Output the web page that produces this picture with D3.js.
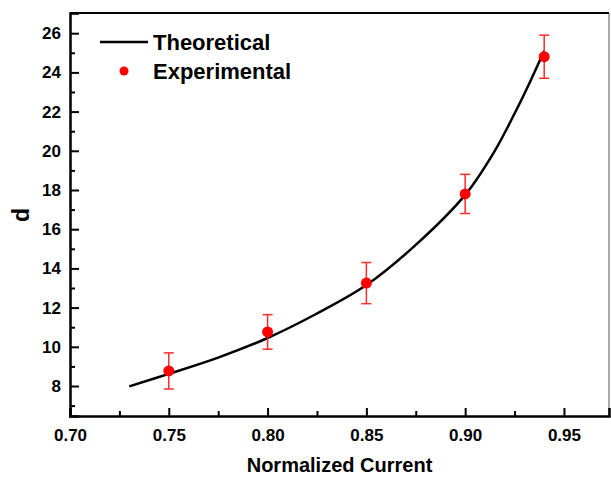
<!DOCTYPE html>
<head>
  <meta charset="UTF-8">
  <script src="https://d3js.org/d3.v7.min.js"></script>
  <title>d vs Normalized Current</title>
  <style>
    body { margin: 0; background: #fff; }
    text { font-family: "Liberation Sans", Arial, sans-serif; font-weight: bold; }
  </style>
</head>
<body>
  <svg id="chart"></svg>
  <script>
    // theoretical curve
    var theoX = [0.730, 0.750, 0.775, 0.800, 0.825, 0.850, 0.875, 0.900, 0.915, 0.925, 0.933, 0.940];
    var theoY = [7.98, 8.62, 9.45, 10.45, 11.7, 13.15, 15.2, 17.75, 20.0, 21.9, 23.55, 25.1];

    // experimental points with error bars
    var expX = [0.75, 0.80, 0.85, 0.90, 0.94];
    var expY = [8.77, 10.76, 13.25, 17.8, 24.8];
    var expErr = [0.92, 0.88, 1.05, 1.0, 1.1];

    var xTicks = [0.70, 0.75, 0.80, 0.85, 0.90, 0.95];
    var yTicks = [8, 10, 12, 14, 16, 18, 20, 22, 24, 26];

    var width = 611, height = 478;
    var mLeft = 70, mRight = 609, mTop = 13, mBottom = 416;

    var svg = d3.select("#chart")
        .attr("width", width)
        .attr("height", height);

    var x = d3.scaleLinear().domain([0.70, 0.9728]).range([mLeft, mRight]);
    var y = d3.scaleLinear().domain([6.47, 27.03]).range([mBottom, mTop]);

    // frame top / right
    svg.append("line")
        .attr("x1", mLeft).attr("x2", mRight).attr("y1", mTop).attr("y2", mTop)
        .attr("stroke", "#000").attr("stroke-width", 2);
    svg.append("line")
        .attr("x1", mRight).attr("x2", mRight).attr("y1", mTop).attr("y2", mBottom)
        .attr("stroke", "#555").attr("stroke-width", 1);

    // x axis, ticks pointing inward
    var xMinor = d3.range(0.725, 0.97, 0.05);
    svg.append("g")
        .attr("transform", "translate(0," + mBottom + ")")
        .call(d3.axisBottom(x).tickValues(xMinor).tickSize(-5).tickFormat(""))
        .call(function(g) { g.select(".domain").remove(); });
    var xa = svg.append("g")
        .attr("transform", "translate(0," + mBottom + ")")
        .call(d3.axisBottom(x).tickValues(xTicks).tickSize(-8).tickPadding(13).tickFormat(d3.format(".2f")));
    xa.selectAll("text").attr("font-size", 17).attr("fill", "#000");

    // y axis
    var yMinor = d3.range(7, 27, 2);
    svg.append("g")
        .attr("transform", "translate(" + mLeft + ",0)")
        .call(d3.axisLeft(y).tickValues(yMinor).tickSize(-5).tickFormat(""))
        .call(function(g) { g.select(".domain").remove(); });
    var ya = svg.append("g")
        .attr("transform", "translate(" + mLeft + ",0)")
        .call(d3.axisLeft(y).tickValues(yTicks).tickSize(-9).tickPadding(9));
    ya.selectAll("text").attr("font-size", 17).attr("fill", "#000");

    svg.selectAll(".tick line").attr("stroke", "#000").attr("stroke-width", 2);
    svg.selectAll(".domain").attr("stroke", "#000").attr("stroke-width", 2.5);

    // axis titles
    svg.append("text")
        .attr("x", (mLeft + mRight) / 2)
        .attr("y", 472)
        .attr("text-anchor", "middle")
        .attr("font-size", 20)
        .text("Normalized Current");
    svg.append("text")
        .attr("transform", "translate(29,215) rotate(-90)")
        .attr("text-anchor", "middle")
        .attr("font-size", 23)
        .text("d");

    // theoretical line
    var line = d3.line()
        .x(function(d) { return x(d[0]); })
        .y(function(d) { return y(d[1]); })
        .curve(d3.curveCatmullRom);
    svg.append("path")
        .datum(d3.zip(theoX, theoY))
        .attr("d", line)
        .attr("fill", "none")
        .attr("stroke", "#000")
        .attr("stroke-width", 2.5);

    // error bars + points
    var pts = d3.zip(expX, expY, expErr);
    var eb = svg.append("g").attr("stroke", "#ff2a2a").attr("stroke-width", 1.5);
    pts.forEach(function(p) {
        var cx = x(p[0]);
        eb.append("line").attr("x1", cx).attr("x2", cx)
            .attr("y1", y(p[1] - p[2])).attr("y2", y(p[1] + p[2]));
        [p[1] - p[2], p[1] + p[2]].forEach(function(v) {
            eb.append("line").attr("x1", cx - 5).attr("x2", cx + 5)
                .attr("y1", y(v)).attr("y2", y(v));
        });
    });
    svg.selectAll("circle.pt")
        .data(pts)
        .enter().append("circle")
        .attr("class", "pt")
        .attr("cx", function(d) { return x(d[0]); })
        .attr("cy", function(d) { return y(d[1]); })
        .attr("r", 5.5)
        .attr("fill", "#ff0000");

    // legend
    var lg = svg.append("g");
    lg.append("line").attr("x1", 100).attr("x2", 148).attr("y1", 42).attr("y2", 42)
        .attr("stroke", "#000").attr("stroke-width", 2.5);
    lg.append("text").attr("x", 153).attr("y", 50).attr("font-size", 22).text("Theoretical");
    lg.append("circle").attr("cx", 124).attr("cy", 71).attr("r", 4.5).attr("fill", "#ff0000");
    lg.append("text").attr("x", 153).attr("y", 79).attr("font-size", 22).text("Experimental");
  </script>
</body>
</html>
